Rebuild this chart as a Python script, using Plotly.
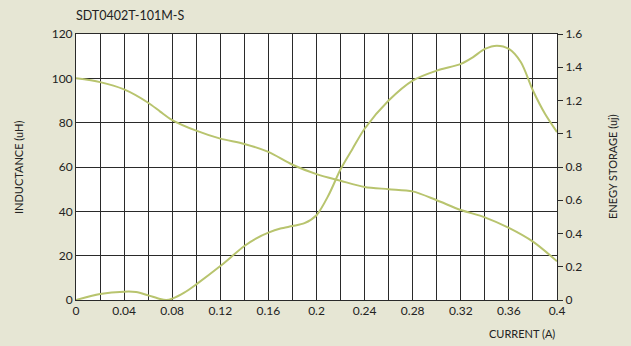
import plotly.graph_objects as go

# Data
current_L = [0, 0.02, 0.04, 0.06, 0.07, 0.08, 0.1, 0.12, 0.14, 0.16, 0.18, 0.2,
             0.22, 0.24, 0.26, 0.28, 0.3, 0.32, 0.34, 0.36, 0.38, 0.4]
inductance = [100, 98.3, 95, 89, 85, 81.2, 76.4, 72.8, 70.4, 66.8, 61, 56.8,
              53.8, 51, 50, 49, 45, 40.6, 37.3, 32.5, 26.3, 17.5]

current_E = [0, 0.02, 0.04, 0.05, 0.06, 0.07, 0.075, 0.08, 0.09, 0.1, 0.12, 0.14,
             0.15, 0.16, 0.17, 0.18, 0.19, 0.2, 0.21, 0.22, 0.23, 0.24, 0.26, 0.28,
             0.3, 0.32, 0.33, 0.34, 0.35, 0.36, 0.37, 0.38, 0.39, 0.4]
energy = [0, 0.036, 0.05, 0.048, 0.028, 0.006, 0, 0.008, 0.044, 0.094, 0.204, 0.325,
          0.371, 0.405, 0.43, 0.445, 0.462, 0.51, 0.63, 0.786, 0.91, 1.03, 1.2, 1.32,
          1.38, 1.42, 1.46, 1.51, 1.53, 1.51, 1.43, 1.26, 1.12, 1.01]

x_tickvals = [round(0.02 * i, 2) for i in range(21)]
x_ticktext = ["0", "", "0.04", "", "0.08", "", "0.12", "", "0.16", "", "0.2", "",
              "0.24", "", "0.28", "", "0.32", "", "0.36", "", "0.4"]
left_ticks = [0, 20, 40, 60, 80, 100, 120]
right_ticks = [0, 0.2, 0.4, 0.6, 0.8, 1.0, 1.2, 1.4, 1.6]
right_ticktext = ["0", "0.2", "0.4", "0.6", "0.8", "1", "1.2", "1.4", "1.6"]

LINE = "#B8C46E"
BG = "#E6E6D4"
TXT = "#222222"
GRID = "#2a2a2a"
FONT = "Lato, Open Sans, sans-serif"

fig = go.Figure()
fig.add_trace(go.Scatter(x=current_L, y=inductance, mode="lines",
                         line=dict(color=LINE, width=2, shape="spline", smoothing=0.8),
                         yaxis="y", showlegend=False, hoverinfo="skip"))
fig.add_trace(go.Scatter(x=current_E, y=energy, mode="lines",
                         line=dict(color=LINE, width=2, shape="spline", smoothing=0.8),
                         yaxis="y2", showlegend=False, hoverinfo="skip"))

fig.update_layout(
    width=631, height=346,
    margin=dict(l=76, r=74, t=34, b=46, autoexpand=False),
    paper_bgcolor=BG, plot_bgcolor="white",
    font=dict(family=FONT, size=12, color=TXT),
    xaxis=dict(range=[0, 0.4], tickvals=x_tickvals, ticktext=x_ticktext,
               showgrid=True, gridcolor=GRID, gridwidth=1, automargin=False,
               showline=True, linecolor=GRID, linewidth=1, mirror=True,
               ticks="", zeroline=False, tickfont=dict(size=12)),
    yaxis=dict(range=[0, 120], tickvals=left_ticks, automargin=False,
               showgrid=True, gridcolor=GRID, gridwidth=1,
               showline=True, linecolor=GRID, linewidth=1,
               ticks="", zeroline=False, tickfont=dict(size=12)),
    yaxis2=dict(range=[0, 1.6], tickvals=right_ticks, ticktext=right_ticktext,
                overlaying="y", side="right", showgrid=False, automargin=False,
                showline=True, linecolor=GRID, linewidth=1,
                ticks="outside", ticklen=5, tickcolor=GRID, zeroline=False,
                tickfont=dict(size=12)),
    annotations=[
        dict(text="SDT0402T-101M-S", x=0, y=1, xref="paper", yref="paper",
             showarrow=False, xanchor="left", yanchor="middle", yshift=19, xshift=-2,
             font=dict(size=12.5, color=TXT)),
        dict(text="CURRENT (A)", x=0.4, y=0, xref="x", yref="paper",
             showarrow=False, xanchor="right", yanchor="middle", yshift=-33,
             font=dict(size=11, color=TXT)),
        dict(text="INDUCTANCE (uH)", x=0, y=0.5, xref="paper", yref="paper",
             showarrow=False, xanchor="center", yanchor="middle", xshift=-58,
             textangle=-90, font=dict(size=11, color=TXT)),
        dict(text="ENEGY STORAGE (uj)", x=1, y=0.5, xref="paper", yref="paper",
             showarrow=False, xanchor="center", yanchor="middle", xshift=55,
             textangle=-90, font=dict(size=11, color=TXT)),
    ],
)

fig.write_html(
    "out.html",
    config={"displayModeBar": False},
    post_script="document.body.style.margin='0';document.body.style.background='#E6E6D4';",
)
